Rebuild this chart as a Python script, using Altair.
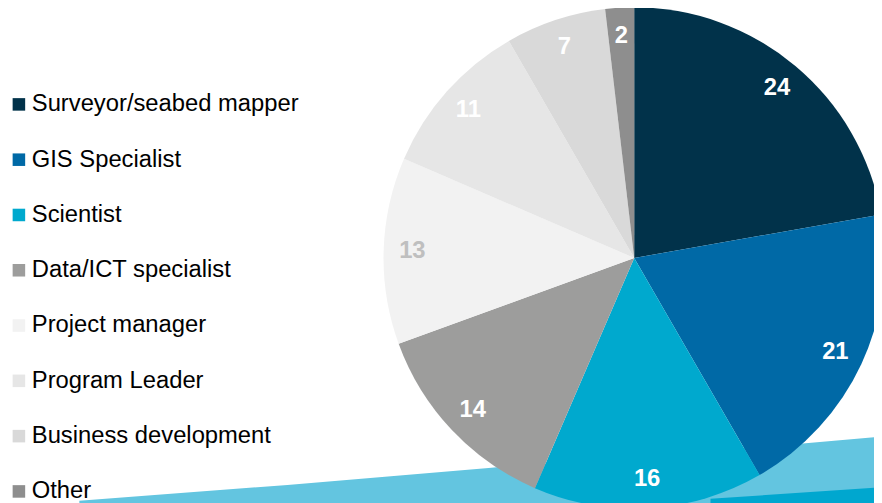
import altair as alt
import pandas as pd

W, H = 874, 495

categories = ["Surveyor/seabed mapper", "GIS Specialist", "Scientist", "Data/ICT specialist",
              "Project manager", "Program Leader", "Business development", "Other"]
values = [24, 21, 16, 14, 13, 11, 7, 2]
colors = ["#01324A", "#0069A6", "#00A9CE", "#9D9D9C", "#F2F2F2", "#E6E6E6", "#D9D9D9", "#8E8E8E"]
label_colors = ["#FFFFFF", "#FFFFFF", "#FFFFFF", "#FFFFFF", "#BFBFBF", "#FFFFFF", "#FFFFFF", "#FFFFFF"]

# decorative swoosh (pixel-space points)
band_x = [72, 282, 485, 805, 874]
band_y = [495, 479, 462, 437, 431]
strip_x = [709, 874]
strip_y = [493, 482]

pie_df = pd.DataFrame({
    "role": categories,
    "value": values,
    "order": list(range(len(categories))),
    "lc": label_colors,
})
band_df = pd.DataFrame({"bx": band_x, "by": band_y, "bb": [H + 10] * len(band_x)})
strip_df = pd.DataFrame({"bx": strip_x, "by": strip_y, "bb": [H + 10] * len(strip_x)})

xs = alt.Scale(domain=[0, W], range=[0, W])
ys = alt.Scale(domain=[0, H], range=[0, H])

band = alt.Chart(band_df).mark_area(color="#63C5E0", interpolate="monotone", orient="vertical").encode(
    x=alt.X("bx:Q", scale=xs, axis=None),
    y=alt.Y("by:Q", scale=ys, axis=None),
    y2=alt.Y2("bb:Q"),
)
strip = alt.Chart(strip_df).mark_area(color="#00A7CF", orient="vertical").encode(
    x=alt.X("bx:Q", scale=xs, axis=None),
    y=alt.Y("by:Q", scale=ys, axis=None),
    y2=alt.Y2("bb:Q"),
)

CX, CY, R = 632, 250, 253

pie = alt.Chart(pie_df).mark_arc(radius=R).encode(
    theta=alt.Theta("value:Q", stack=True),
    order=alt.Order("order:Q"),
    color=alt.Color(
        "role:N",
        sort=categories,
        scale=alt.Scale(domain=categories, range=colors),
        legend=alt.Legend(
            title=None,
            orient="none",
            legendX=-1,
            legendY=83,
            symbolType="square",
            symbolSize=160,
            symbolStrokeWidth=0,
            labelFont="Liberation Sans",
            labelFontSize=24,
            labelColor="#000000",
            labelOffset=1,
            labelLimit=400,
            rowPadding=31.8,
            padding=0,
        ),
    ),
    x=alt.value(CX),
    y=alt.value(CY),
)

labels = alt.Chart(pie_df).mark_text(
    radius=224, font="Liberation Sans", fontSize=24, fontWeight="bold", baseline="middle", align="center"
).encode(
    theta=alt.Theta("value:Q", stack=True),
    order=alt.Order("order:Q"),
    text=alt.Text("value:Q"),
    color=alt.Color("lc:N", scale=None, legend=None),
    x=alt.value(CX),
    y=alt.value(CY),
)

chart = alt.layer(band, strip, pie, labels).resolve_scale(color="independent").properties(
    width=W, height=H, autosize=alt.AutoSizeParams(type="none"), padding=0
).configure_view(stroke=None)

chart.save("out.html", embed_options={"renderer": "svg", "actions": False})
